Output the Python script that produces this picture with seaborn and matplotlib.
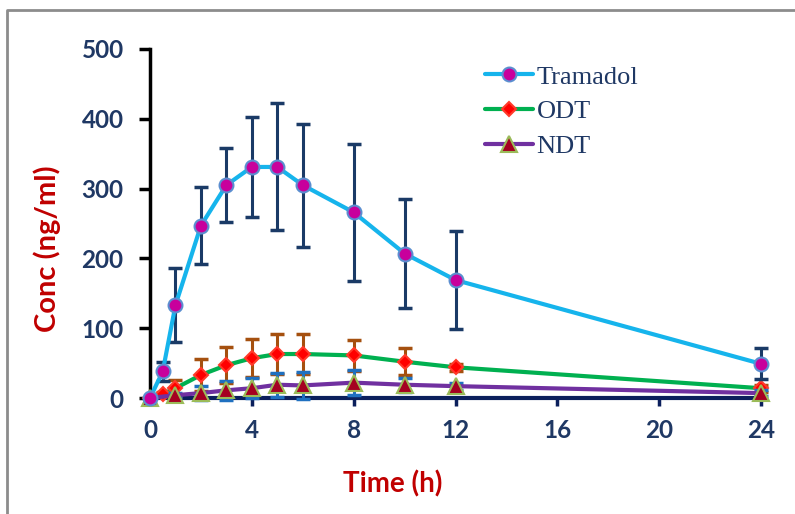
import numpy as np
import pandas as pd
import matplotlib
matplotlib.use("Agg")
import matplotlib.pyplot as plt
from matplotlib.lines import Line2D
import seaborn as sns

# ---- data ----
tram_t = [0, 0.5, 1, 2, 3, 4, 5, 6, 8, 10, 12, 24]
tram_c = [0, 38, 133, 247, 305, 331, 331, 305, 266, 207, 169, 49]
tram_sd = [0, 14, 53, 55, 53, 72, 91, 88, 98, 78, 70, 22]

odt_t = [0, 0.5, 1, 2, 3, 4, 5, 6, 8, 10, 12, 24]
odt_c = [0, 6, 14, 33, 47, 57, 63, 63, 61, 52, 44, 14]
odt_sd = [0, 3, 12, 23, 26, 27, 28, 28, 22, 19, 5, 5]

ndt_t = [0, 1, 2, 3, 4, 5, 6, 8, 10, 12, 24]
ndt_c = [0, 4, 7, 11, 14, 19, 18, 22, 19, 17, 7]
ndt_sd = [0, 3, 10, 14, 14, 17, 19, 18, 10, 5, 4]

x_ticks = [0, 4, 8, 12, 16, 20, 24]
y_ticks = [0, 100, 200, 300, 400, 500]

df = pd.concat([
    pd.DataFrame({"time": tram_t, "conc": tram_c, "sd": tram_sd, "drug": "Tramadol"}),
    pd.DataFrame({"time": odt_t, "conc": odt_c, "sd": odt_sd, "drug": "ODT"}),
    pd.DataFrame({"time": ndt_t, "conc": ndt_c, "sd": ndt_sd, "drug": "NDT"}),
], ignore_index=True)

sns.set_theme(style="white")
plt.rcParams["font.family"] = ["Lato", "DejaVu Sans"]

navy = "#1F3864"
red = "#C00000"

fig = plt.figure(figsize=(7.95, 5.14), dpi=100)
ax = fig.add_axes([150/795, 1 - 398/514, 611/795, 349/514])

styles = {
    "Tramadol": dict(color="#16B4EC", marker="o", ms=10, mfc="#C8009C", mec="#5B8ED0",
                     ecolor="#1A3A66", z=5),
    "ODT": dict(color="#00B050", marker="D", ms=7.5, mfc="#FF0000", mec="#FF3A2A",
                ecolor="#A5500F", z=3),
    "NDT": dict(color="#7030A0", marker="^", ms=11, mfc="#A50021", mec="#9BBB59",
                ecolor="#1F70C0", z=4),
}

# error bars first
for drug in ["ODT", "NDT", "Tramadol"]:
    sub = df[df["drug"] == drug]
    st = styles[drug]
    ax.errorbar(sub["time"], sub["conc"], yerr=sub["sd"], fmt="none",
                ecolor=st["ecolor"], elinewidth=2.2, capsize=5, capthick=2.5,
                zorder=st["z"] - 0.5)

for drug in ["ODT", "NDT", "Tramadol"]:
    sub = df[df["drug"] == drug]
    st = styles[drug]
    sns.lineplot(data=sub, x="time", y="conc", ax=ax, color=st["color"],
                 marker=st["marker"], markersize=st["ms"], markerfacecolor=st["mfc"],
                 markeredgecolor=st["mec"], markeredgewidth=1.5, linewidth=3,
                 errorbar=None, zorder=st["z"], label=drug, legend=False)

ax.set_xlim(0, 24)
ax.set_ylim(0, 500)
ax.set_xticks(x_ticks)
ax.set_yticks(y_ticks)
ax.set_xticklabels([str(v) for v in x_ticks])
ax.set_yticklabels([str(v) for v in y_ticks])
for ln in ax.lines:
    ln.set_clip_on(False)
for coll in ax.collections:
    coll.set_clip_on(False)

for s in ["top", "right"]:
    ax.spines[s].set_visible(False)
ax.spines["left"].set_color("black")
ax.spines["left"].set_linewidth(2.5)
ax.spines["bottom"].set_color("#0B1F5C")
ax.spines["bottom"].set_linewidth(3)
ax.spines["left"].set_zorder(1)
ax.spines["bottom"].set_zorder(1)

ax.tick_params(axis="y", direction="out", length=8, width=2.5, color="black",
               pad=11, labelsize=17.5, labelcolor=navy, left=True)
ax.tick_params(axis="x", direction="out", length=6, width=2.5, color="#0B1F5C",
               pad=9, labelsize=17.5, labelcolor=navy, bottom=True)
for lab in ax.get_xticklabels() + ax.get_yticklabels():
    lab.set_fontweight("bold")

ax.set_xlabel("Time (h)", fontsize=20, fontweight="bold", color=red)
ax.set_ylabel("Conc (ng/ml)", fontsize=21, fontweight="bold", color=red)
ax.xaxis.set_label_coords((393 - 150) / 611, (398 - 484) / 349)
ax.yaxis.set_label_coords((47 - 150) / 611, (398 - 249) / 349)
ax.xaxis.label.set_va("center")
ax.yaxis.label.set_va("center")

handles = []
for drug in ["Tramadol", "ODT", "NDT"]:
    st = styles[drug]
    handles.append(Line2D([0], [0], color=st["color"], lw=3, marker=st["marker"],
                          ms=st["ms"], mfc=st["mfc"], mec=st["mec"], mew=1.5))
leg = ax.legend(handles, ["Tramadol", "ODT", "NDT"], loc="upper left",
                bbox_to_anchor=((472 - 150) / 611, (398 - 52) / 349),
                frameon=False, handlelength=1.8, handletextpad=0.15,
                labelspacing=0.42, borderpad=0,
                prop={"family": ["Liberation Serif", "DejaVu Serif"], "size": 19})
for t in leg.get_texts():
    t.set_color(navy)

# outer grey frame
fig.add_artist(Line2D([7/795, 7/795, 1.0], [0.0, 1 - 10/514, 1 - 10/514],
                      transform=fig.transFigure, color="#8C8C8C", lw=2))

fig.savefig("out.png", dpi=100, facecolor="white")
